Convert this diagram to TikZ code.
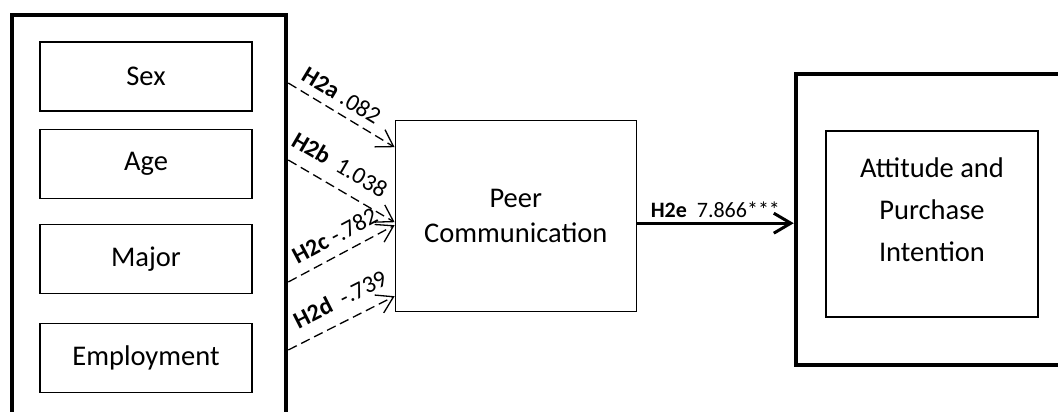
\documentclass[tikz,border=0pt]{standalone}
\usepackage{fontspec}
\setmainfont{Carlito}
\usetikzlibrary{arrows.meta}
\begin{document}
\begin{tikzpicture}[x=1pt,y=1pt,
  frame/.style={draw, line width=4.5pt, inner sep=0pt},
  item/.style={draw, line width=1.4pt, minimum width=212pt, minimum height=69pt,
    inner sep=0pt, font=\fontsize{28.5}{34}\selectfont},
  dasharrow/.style={dash pattern=on 9.5pt off 5pt, line width=1.3pt,
    -{Straight Barb[length=16pt,width=20pt,line width=1.3pt]}},
  lab/.style={font=\fontsize{24}{26}\selectfont, sloped, inner sep=0pt}]
\clip (0,0) rectangle (1058,-412);
\fill[white] (0,0) rectangle (1058,-412);

% outer frames
\node[frame, minimum width=274pt, minimum height=425pt] (demo) at (149,-227.5) {};
\node[frame, minimum width=304pt, minimum height=291pt] (outcome) at (948,-219.5) {};

% demographic variables
\node[item] (sex)  at (146,-76.5) {Sex};
\node[item] (age)  at (146,-164)  {Age};
\node[item] (major) at (146,-259) {Major};
\node[item] (emp)  at (146,-358)  {Employment};

% mediator
\node[draw, line width=1.4pt, minimum width=241pt, minimum height=191pt, inner sep=0pt,
  align=center, font=\fontsize{28.5}{35}\selectfont] (peer) at (515.8,-216.2)
  {Peer\\Communication};

% outcome
\node[draw, line width=1.4pt, minimum width=212pt, minimum height=186pt, inner sep=0pt,
  label={[align=center, font=\fontsize{28.5}{42}\selectfont, yshift=14pt]center:Attitude and\\Purchase\\Intention}]
  (att) at (932,-224) {};

% hypothesised paths
\draw[dasharrow] ([yshift=144.5pt]demo.east) -- node[lab, above=8pt, pos=0.42] {\textbf{H2a} .082} ([yshift=69pt]peer.west);
\draw[dasharrow] ([yshift=67.5pt]demo.east) -- node[lab, above=13pt, pos=0.38] {\textbf{H2b}\ \ 1.038} ([yshift=-6pt]peer.west);
\draw[dasharrow] ([yshift=-54.5pt]demo.east) -- node[lab, above=10pt, pos=0.52] {\textbf{H2c} -.782} ([yshift=-9pt]peer.west);
\draw[dasharrow] ([yshift=-122.5pt]demo.east) -- node[lab, above=13pt, pos=0.58] {\textbf{H2d}\ \ -.739} ([yshift=-80pt]peer.west);

\coordinate (e1) at ([yshift=-7pt]peer.east);
\draw[line width=3pt, -{Straight Barb[length=17pt,width=20pt,line width=3pt]}]
  (e1) -- node[above, inner sep=4pt, font=\fontsize{22}{26}\selectfont] {\textbf{H2e}\ \ 7.866***} (e1 -| outcome.west);
\end{tikzpicture}
\end{document}
